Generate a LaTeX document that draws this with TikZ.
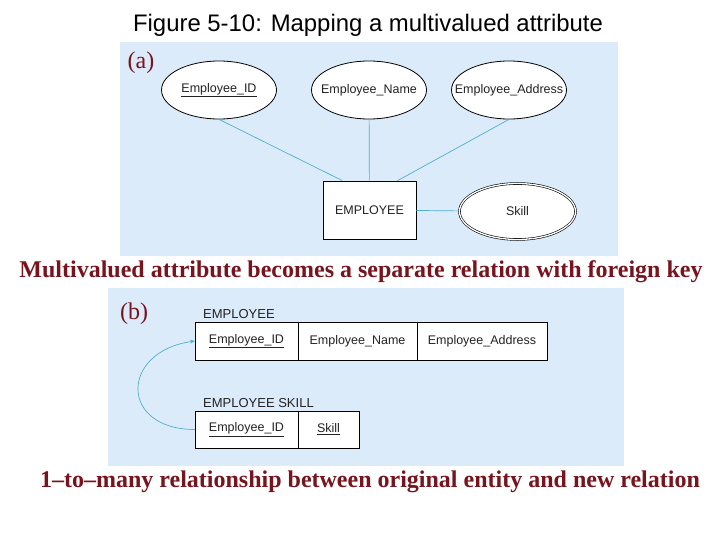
\documentclass[tikz,border=0pt]{standalone}
\usepackage{fontspec}
\setmainfont{Liberation Serif}
\setsansfont{Liberation Sans}
\usetikzlibrary{positioning,shapes.geometric,arrows.meta,calc}
\definecolor{panelblue}{RGB}{219,235,250}
\definecolor{linkblue}{RGB}{80,175,205}
\definecolor{capred}{RGB}{120,20,30}
\definecolor{inktext}{RGB}{35,35,35}
\begin{document}
\begin{tikzpicture}[x=1pt,y=-1pt,
			er font/.style={font=\sffamily\fontsize{12.5}{14}\selectfont, text=inktext},
			attr/.style={ellipse, draw, fill=white, line width=0.8pt, minimum width=115pt, minimum height=58pt, inner xsep=-15pt, inner ysep=0pt, er font},
			multi attr/.style={attr, double, double distance=1.3pt, line width=0.6pt},
			entity/.style={draw, fill=white, line width=0.8pt, minimum width=93pt, minimum height=58pt, inner sep=0pt, er font},
			cell/.style={draw, fill=white, line width=0.8pt, minimum height=38pt, inner sep=0pt, outer sep=0pt, er font},
			rel name/.style={inner sep=0pt, er font, font=\sffamily\fontsize{13}{15}\selectfont},
			link/.style={linkblue, line width=0.7pt},
			caption/.style={font=\bfseries\fontsize{24}{28}\selectfont, text=capred},
			tag/.style={font=\fontsize{24}{28}\selectfont, text=capred}
			]
			\useasboundingbox (0,0) rectangle (720,540);
			\node[font=\sffamily\fontsize{23.9}{28}\selectfont] (title) at (368,25) {Figure 5-10: Mapping a multivalued attribute};
			
			% (a) E-R diagram
			\fill[panelblue] (120,42) rectangle (618,256);
			\node[tag] (tag a) at (141,63) {(a)};
			\node[attr] (a id) at (219,90) {\underline{Employee\_ID}};
			\node[attr] (a name) at (369,90) {Employee\_Name};
			\node[attr] (a addr) at (509,90) {Employee\_Address};
			\node[entity] (a emp) at (369.5,210) {EMPLOYEE};
			\node[multi attr, minimum width=116pt, minimum height=56pt] (a skill) at (517.5,211.5) {Skill};
			\draw[link] (a id.south) -- ($(a emp.north west)!0.21!(a emp.north east)$);
			\draw[link] (a name) -- (a emp);
			\draw[link] (a addr.south) -- ($(a emp.north west)!0.8!(a emp.north east)$);
			\draw[link] (a emp) -- (a skill);
			
			\node[caption] (cap a) at (361,272) {Multivalued attribute becomes a separate relation with foreign key};
			
			% (b) relations
			\fill[panelblue] (108,288) rectangle (624,466);
			\node[tag] (tag b) at (134,314) {(b)};
			\node[cell, minimum width=103pt, anchor=north west] (emp id) at (195,322) {\underline{Employee\_ID}};
			\node[cell, minimum width=119pt, right=0pt of emp id] (emp name) {Employee\_Name};
			\node[cell, minimum width=130pt, right=0pt of emp name] (emp addr) {Employee\_Address};
			\node[rel name, above right=3pt and 8pt of emp id.north west] (emp label) {EMPLOYEE};
			
			\node[cell, minimum width=103pt, minimum height=37pt, anchor=north west] (sk id) at (195,411) {\underline{Employee\_ID}};
			\node[cell, minimum width=61pt, minimum height=37pt, right=0pt of sk id] (sk skill) {\underline{Skill}};
			\node[rel name, above right=3pt and 8pt of sk id.north west] (sk label) {EMPLOYEE SKILL};
			
			\draw[link, -{Stealth[length=5pt,width=4pt]}] (sk id.west) to[out=180, in=188, looseness=2.2] (emp id.west);
			
			\node[caption] (cap b) at (370,482) {1--to--many relationship between original entity and new relation};
		\end{tikzpicture}
\end{document}
